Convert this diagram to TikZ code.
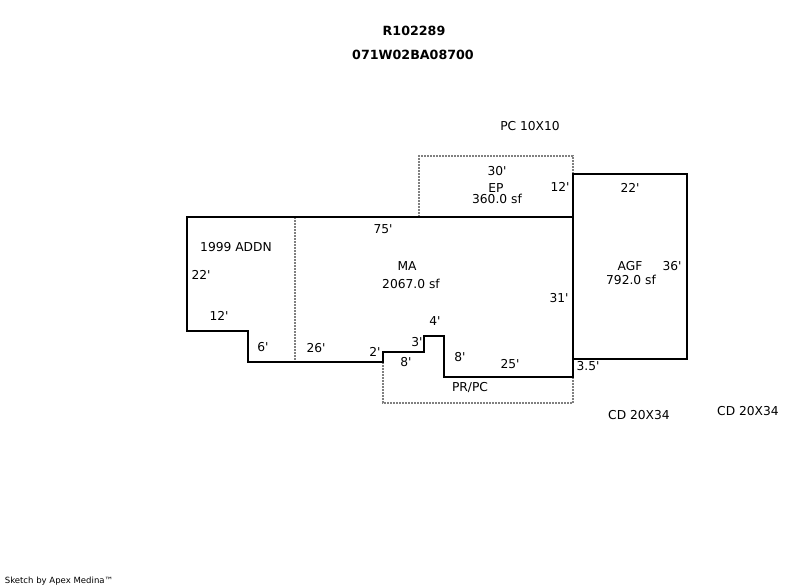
\documentclass[tikz,border=0pt]{standalone}
\usepackage{fontspec}
\setmainfont[Ligatures=TeXOff]{DejaVu Sans}
\usepackage{tikz}

\begin{document}
\begin{tikzpicture}[
    x=0.75pt,
    y=-0.75pt,
    wall/.style={draw=black, line width=1.7pt, line join=miter},
    open/.style={draw=black!50, line width=1.6pt, dash pattern=on 1.5pt off 0.75pt},
    label/.style={inner sep=0pt, font=\fontsize{9.2pt}{10pt}\selectfont},
    title/.style={label, font=\fontsize{9.5pt}{10pt}\selectfont\bfseries},
    credit/.style={inner sep=0pt, font=\fontsize{6.4pt}{8pt}\selectfont}
]
\useasboundingbox (0,0) rectangle (802,588);

% Dotted areas
\draw[open] (419,217) -- (419,156) -- (573,156) -- (573,174);
\draw[open] (383,362) -- (383,403) -- (573,403) -- (573,377);
\draw[open] (295,217) -- (295,362);

% Walls
\draw[wall] (187,217) -- (573,217) -- (573,377) -- (444,377) -- (444,336) -- (424,336) -- (424,352) -- (383,352) -- (383,362) -- (248,362) -- (248,331) -- (187,331) -- cycle;
\draw[wall] (573,217) -- (573,174) -- (687,174) -- (687,359) -- (573,359);

% Titles
\node[title] (parcel) at (414,31) {R102289};
\node[title] (map_id) at (413,55) {071W02BA08700};

% Area labels
\node[label] (pc_area) at (530,126) {PC 10X10};
\node[label] (ep_name) at (496,188) {EP};
\node[label] (ep_sf) at (497,199) {360.0 sf};
\node[label] (addn_name) at (236,247) {1999 ADDN};
\node[label] (ma_name) at (407,266) {MA};
\node[label] (ma_sf) at (411,284) {2067.0 sf};
\node[label] (agf_name) at (630,266) {AGF};
\node[label] (agf_sf) at (631,280) {792.0 sf};
\node[label] (pr_name) at (470,388) {PR/PC};
\node[label] (cd_one) at (639,415) {CD 20X34};
\node[label] (cd_two) at (748,411) {CD 20X34};

% Dimensions
\node[label] (dim_top) at (497,171) {30'};
\node[label] (dim_ep) at (560,187) {12'};
\node[label] (dim_agf_top) at (630,188) {22'};
\node[label] (dim_ma_top) at (383,229) {75'};
\node[label] (dim_addn) at (201,275) {22'};
\node[label] (dim_agf) at (672,266) {36'};
\node[label] (dim_ma) at (559,298) {31'};
\node[label] (dim_step) at (219,316) {12'};
\node[label] (dim_six) at (263,347) {6'};
\node[label] (dim_rear) at (316,348) {26'};
\node[label] (dim_two) at (375,352) {2'};
\node[label] (dim_eight) at (406,362) {8'};
\node[label] (dim_three) at (417,342) {3'};
\node[label] (dim_four) at (435,321) {4'};
\node[label] (dim_notch) at (460,357) {8'};
\node[label] (dim_pr) at (510,364) {25'};
\node[label] (dim_half) at (588,366) {3.5'};

% Credit
\node[credit] (sketch) at (59,581) {Sketch by Apex Medina™};
\end{tikzpicture}
\end{document}
